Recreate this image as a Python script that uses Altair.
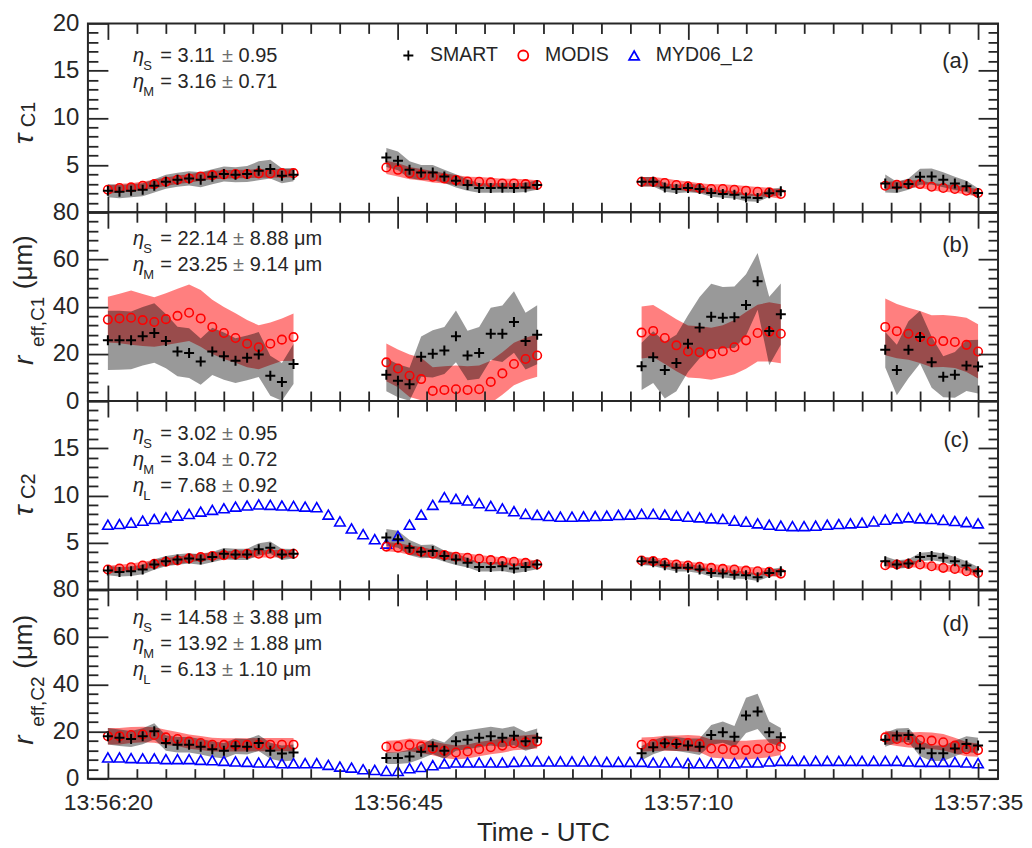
import altair as alt
import pandas as pd

FONT = "Liberation Sans"
INK = "#262626"
PM_INK = "#6e6e6e"
W, H = 911, 189

# ---------------- axes / categories ----------------
TIME_TICKS = [0, 25, 50, 75]
TIME_LABELS = ["13:56:20", "13:56:45", "13:57:10", "13:57:35"]
X_DOMAIN = [-1.72, 76.72]
X_MINOR = [i * 2.5 for i in range(1, 30) if i % 10]

SEG_TIMES = [list(range(0, 17)), list(range(24, 38)), list(range(46, 59)), list(range(67, 76))]
LIDAR_TIMES = list(range(0, 76))

SERIES = ["SMART", "MODIS", "MYD06_L2"]
SERIES_COLORS = ["#000000", "#ff0000", "#0000ff"]
PLUS = "M-1,0L1,0M0,-1L0,1"
SERIES_SHAPES = [PLUS, "circle", "triangle-up"]

# ---------------- panel (a): tau C1 ----------------
TAU1_SMART = [
    [2.28, 2.17, 2.28, 2.38, 2.8, 3.23, 3.44, 3.58, 3.44, 3.76, 4.04, 3.97, 4.04, 4.39, 4.57, 3.86, 3.97],
    [5.79, 5.44, 4.49, 4.21, 4.21, 3.79, 3.33, 2.88, 2.56, 2.56, 2.6, 2.56, 2.63, 2.88],
    [3.23, 3.23, 2.63, 2.46, 2.56, 2.46, 2.03, 1.93, 1.86, 1.57, 1.51, 2.0, 2.21],
    [3.05, 2.63, 2.98, 3.76, 3.79, 3.44, 3.05, 2.74, 2.03],
]
TAU1_SMART_ERR = [
    [0.7, 0.7, 0.7, 0.7, 0.7, 0.75, 0.75, 0.75, 0.8, 0.8, 0.8, 0.8, 0.85, 1.0, 1.0, 0.8, 0.7],
    [1.0, 1.0, 0.9, 0.8, 0.8, 0.7, 0.7, 0.6, 0.5, 0.5, 0.5, 0.5, 0.5, 0.5],
    [0.5, 0.5, 0.45, 0.45, 0.45, 0.45, 0.4, 0.4, 0.4, 0.4, 0.4, 0.4, 0.4],
    [0.95, 0.6, 0.6, 0.85, 0.85, 0.8, 0.7, 0.6, 0.5],
]
TAU1_MODIS = [
    [2.38, 2.56, 2.63, 2.8, 2.98, 3.23, 3.44, 3.58, 3.79, 3.93, 4.0, 4.04, 4.04, 4.11, 4.11, 4.14, 4.14],
    [4.74, 4.49, 4.14, 3.97, 3.76, 3.58, 3.4, 3.26, 3.23, 3.16, 3.05, 3.05, 2.98, 2.88],
    [3.23, 3.23, 3.09, 2.88, 2.74, 2.56, 2.46, 2.46, 2.38, 2.28, 2.17, 2.1, 1.93],
    [2.8, 2.91, 2.98, 2.98, 2.7, 2.56, 2.46, 2.28, 2.03],
]
TAU1_MODIS_ERR = [
    [0.45, 0.45, 0.45, 0.45, 0.45, 0.45, 0.45, 0.45, 0.45, 0.45, 0.45, 0.45, 0.45, 0.45, 0.45, 0.45, 0.45],
    [0.7, 0.7, 0.65, 0.6, 0.6, 0.55, 0.55, 0.5, 0.5, 0.5, 0.5, 0.5, 0.5, 0.5],
    [0.5, 0.5, 0.5, 0.5, 0.5, 0.5, 0.5, 0.5, 0.5, 0.5, 0.5, 0.5, 0.5],
    [0.4, 0.4, 0.4, 0.4, 0.4, 0.4, 0.4, 0.4, 0.4],
]

# ---------------- panel (b): r_eff C1 ----------------
R1_SMART = [
    [25.7, 25.7, 25.7, 27.4, 28.8, 25.4, 21.0, 20.3, 16.7, 21.0, 19.0, 17.1, 18.3, 19.7, 10.7, 8.1, 15.7],
    [11.1, 8.6, 7.1, 18.8, 20.0, 21.4, 27.4, 19.3, 20.4, 28.5, 28.5, 33.5, 25.4, 28.1],
    [14.7, 18.6, 13.1, 16.1, 24.3, 31.1, 35.7, 35.3, 35.5, 40.7, 50.7, 29.7, 36.8],
    [21.7, 13.1, 21.7, 27.1, 16.4, 10.3, 11.1, 15.0, 14.6],
]
R1_SMART_ERR = [
    [12.6, 12.5, 12.2, 12.4, 12.6, 11.5, 10.5, 10.5, 9.8, 10.0, 10.0, 9.5, 9.5, 9.5, 8.5, 8.0, 8.5],
    [7.0, 7.0, 7.0, 8.5, 10.0, 10.0, 11.0, 10.5, 11.0, 11.0, 12.0, 13.0, 12.0, 12.5],
    [10.0, 11.0, 12.0, 12.0, 12.0, 13.0, 14.0, 13.0, 13.0, 13.0, 12.0, 14.5, 13.0],
    [7.5, 10.7, 12.1, 11.2, 10.8, 8.7, 9.7, 10.7, 11.4],
]
R1_MODIS = [
    [34.5, 35.0, 35.3, 34.3, 33.5, 34.7, 36.1, 37.4, 35.0, 31.4, 28.8, 26.7, 24.3, 22.8, 24.3, 26.0, 27.1],
    [16.4, 13.8, 10.7, 9.3, 4.3, 4.7, 5.0, 4.7, 5.0, 8.1, 11.7, 15.7, 17.8, 19.3],
    [29.0, 29.7, 26.7, 23.6, 21.0, 20.7, 20.0, 21.1, 22.8, 25.7, 28.8, 29.3, 28.5],
    [31.4, 29.6, 28.5, 27.1, 25.3, 25.4, 25.0, 23.8, 21.0],
]
R1_MODIS_ERR = [
    [9.7, 10.5, 11.5, 11.0, 10.5, 11.0, 11.5, 12.0, 12.0, 11.5, 11.0, 10.5, 10.0, 9.3, 9.0, 9.0, 10.0],
    [8.0, 8.0, 9.0, 9.0, 10.0, 10.0, 10.0, 10.0, 10.0, 9.0, 9.0, 9.0, 9.0, 9.0],
    [11.0, 11.0, 11.0, 11.0, 11.0, 11.0, 11.0, 11.0, 11.5, 12.0, 12.0, 12.5, 12.5],
    [12.0, 11.5, 11.0, 11.0, 11.0, 11.0, 11.0, 11.5, 11.5],
]

# ---------------- panel (c): tau C2 ----------------
TAU2_SMART = [
    [2.04, 1.9, 1.97, 2.15, 2.69, 3.04, 3.22, 3.33, 3.22, 3.47, 3.82, 3.75, 3.75, 4.29, 4.47, 3.75, 3.82],
    [5.54, 5.36, 4.47, 4.04, 4.11, 3.58, 3.22, 2.86, 2.43, 2.43, 2.5, 2.26, 2.43, 2.68],
    [3.04, 2.93, 2.61, 2.33, 2.33, 2.15, 1.79, 1.72, 1.61, 1.54, 1.33, 1.79, 1.97],
    [3.04, 2.68, 2.79, 3.47, 3.58, 3.4, 3.04, 2.58, 1.97],
]
TAU2_SMART_ERR = [
    [0.5, 0.5, 0.5, 0.5, 0.55, 0.55, 0.55, 0.55, 0.55, 0.55, 0.6, 0.6, 0.6, 0.65, 0.65, 0.6, 0.5],
    [0.9, 0.9, 0.8, 0.7, 0.7, 0.6, 0.6, 0.5, 0.5, 0.5, 0.5, 0.5, 0.5, 0.5],
    [0.4, 0.4, 0.4, 0.4, 0.4, 0.4, 0.4, 0.4, 0.4, 0.4, 0.4, 0.4, 0.4],
    [0.5, 0.45, 0.45, 0.45, 0.45, 0.45, 0.45, 0.45, 0.45],
]
TAU2_MODIS = [
    [2.15, 2.26, 2.4, 2.58, 2.75, 2.97, 3.11, 3.33, 3.47, 3.58, 3.68, 3.75, 3.82, 3.82, 3.82, 3.82, 3.82],
    [4.58, 4.47, 4.22, 4.04, 3.82, 3.68, 3.5, 3.4, 3.29, 3.15, 3.04, 2.97, 2.86, 2.68],
    [3.11, 3.04, 2.86, 2.68, 2.58, 2.43, 2.33, 2.22, 2.15, 2.04, 1.97, 1.9, 1.72],
    [2.61, 2.68, 2.75, 2.68, 2.5, 2.33, 2.22, 1.97, 1.79],
]
TAU2_MODIS_ERR = [
    [0.4, 0.4, 0.4, 0.4, 0.4, 0.4, 0.4, 0.4, 0.4, 0.4, 0.4, 0.4, 0.4, 0.4, 0.4, 0.4, 0.4],
    [0.5, 0.5, 0.5, 0.5, 0.45, 0.45, 0.45, 0.45, 0.4, 0.4, 0.4, 0.4, 0.4, 0.4],
    [0.4, 0.4, 0.4, 0.4, 0.4, 0.4, 0.4, 0.4, 0.4, 0.4, 0.4, 0.4, 0.4],
    [0.35, 0.35, 0.35, 0.35, 0.35, 0.35, 0.35, 0.35, 0.35],
]
TAU2_MYD06 = [
    6.9, 6.97, 7.11, 7.32, 7.5, 7.68, 7.86, 8.04, 8.29, 8.47, 8.64, 8.82, 8.93, 9.04, 9.0, 8.93,
    8.89, 8.82, 8.75, 7.97, 7.25, 6.5, 5.9, 5.36, 4.9, 5.72, 6.9, 7.97, 9.0, 9.82, 9.64, 9.46,
    9.18, 8.89, 8.62, 8.33, 8.04, 7.93, 7.82, 7.75, 7.75, 7.79, 7.82, 7.86, 7.93, 7.97, 8.04, 8.04,
    7.97, 7.86, 7.75, 7.68, 7.57, 7.5, 7.32, 7.22, 7.04, 6.9, 6.79, 6.75, 6.75, 6.79, 6.9, 6.97,
    7.04, 7.11, 7.25, 7.43, 7.57, 7.68, 7.57, 7.5, 7.4, 7.29, 7.18, 7.04,
]

# ---------------- panel (d): r_eff C2 ----------------
R2_SMART = [
    [18.0, 17.3, 16.8, 18.0, 20.1, 15.1, 14.4, 14.4, 13.5, 12.5, 11.8, 13.7, 13.5, 15.1, 11.8, 10.7, 11.1],
    [8.7, 8.7, 9.4, 11.4, 13.7, 11.8, 15.8, 16.5, 17.3, 18.0, 17.3, 18.2, 15.8, 17.3],
    [10.8, 13.3, 15.0, 14.7, 14.0, 13.5, 18.5, 19.7, 17.8, 26.8, 28.5, 19.7, 17.5],
    [16.5, 18.3, 18.5, 12.8, 10.8, 10.8, 12.8, 14.7, 14.0],
]
R2_SMART_ERR = [
    [3.5, 3.5, 3.4, 3.4, 3.4, 3.3, 3.3, 3.3, 3.3, 3.3, 3.3, 3.3, 3.3, 3.4, 3.4, 3.4, 3.4],
    [2.5, 2.5, 2.8, 3.0, 3.3, 3.5, 4.0, 4.0, 4.0, 4.0, 4.0, 4.0, 4.0, 4.0],
    [3.0, 3.0, 3.0, 3.0, 3.0, 3.5, 4.2, 4.5, 4.5, 7.5, 7.5, 4.5, 4.0],
    [3.0, 3.0, 3.0, 3.3, 3.3, 3.3, 3.3, 3.3, 3.3],
]
R2_MODIS = [
    [18.0, 18.0, 18.5, 18.7, 18.5, 17.5, 16.8, 15.7, 15.1, 14.4, 14.3, 14.3, 14.3, 14.4, 14.4, 14.4, 14.4],
    [13.5, 13.7, 14.3, 13.7, 12.8, 11.8, 11.1, 11.5, 12.5, 13.3, 14.0, 15.0, 15.4, 15.8],
    [14.4, 14.7, 15.0, 15.0, 15.1, 14.7, 12.8, 12.5, 12.1, 12.1, 12.5, 12.9, 13.5],
    [17.5, 16.8, 16.4, 16.4, 16.1, 15.4, 14.0, 12.5, 12.1],
]
R2_MODIS_ERR = [
    [3.5, 3.5, 3.4, 3.3, 3.3, 3.2, 3.0, 3.0, 3.0, 2.9, 2.8, 2.8, 2.8, 2.8, 2.8, 2.8, 2.8],
    [2.6, 2.6, 2.7, 2.8, 2.9, 3.0, 3.0, 3.0, 3.0, 3.0, 3.0, 3.0, 3.0, 3.0],
    [3.0, 3.0, 3.2, 3.3, 3.4, 3.5, 3.8, 4.0, 4.0, 4.0, 4.0, 3.8, 3.5],
    [2.8, 3.0, 3.2, 3.4, 3.5, 3.5, 3.3, 3.0, 2.8],
]
R2_MYD06 = [
    8.98, 8.98, 8.7, 8.55, 8.55, 8.27, 8.27, 8.27, 7.98, 7.84, 7.55, 7.27, 7.12, 6.84, 6.84, 6.55,
    6.55, 6.55, 6.55, 5.84, 5.13, 4.7, 3.98, 3.7, 3.27, 3.27, 4.41, 4.98, 5.7, 6.41, 6.84, 6.84,
    6.84, 6.84, 6.84, 7.12, 7.27, 7.27, 7.27, 7.27, 7.27, 7.27, 7.27, 7.12, 7.12, 7.12, 7.12, 6.84,
    6.84, 6.84, 6.55, 6.55, 6.55, 6.55, 6.55, 6.84, 6.84, 7.27, 7.55, 7.55, 7.55, 7.55, 7.55, 7.55,
    7.55, 7.55, 7.55, 7.55, 7.55, 7.27, 7.12, 7.12, 7.12, 7.12, 6.84, 6.55,
]

# ---------------- statistics text: (subscript, median, spread, unit) ----------------
NOTES_A = [("S", "3.11", "0.95", ""), ("M", "3.16", "0.71", "")]
NOTES_B = [("S", "22.14", "8.88", " μm"), ("M", "23.25", "9.14", " μm")]
NOTES_C = [("S", "3.02", "0.95", ""), ("M", "3.04", "0.72", ""), ("L", "7.68", "0.92", "")]
NOTES_D = [("S", "14.58", "3.88", " μm"), ("M", "13.92", "1.88", " μm"), ("L", "6.13", "1.10", " μm")]

# Arial / Liberation Sans advance widths (per 1000 em) for laying out the stat lines
ADV = {"=": 584, " ": 278, ".": 278, "±": 549}


def text_width(s, size):
    return sum(ADV.get(c, 556) for c in s) * size / 1000.0


# ---------------- helpers ----------------
def band_rows(series, values, errors):
    rows = []
    for seg, (ts, vs, es) in enumerate(zip(SEG_TIMES, values, errors)):
        for t, v, e in zip(ts, vs, es):
            rows.append({"t": t, "v": v, "lo": v - e, "hi": v + e, "series": series, "seg": seg})
    return rows


def lidar_rows(values):
    return [{"t": t, "v": v, "lo": v, "hi": v, "series": "MYD06_L2", "seg": 9}
            for t, v in zip(LIDAR_TIMES, values)]


ONE = pd.DataFrame({"k": [0]})
LABEL_EXPR = " : ".join(f"datum.value == {v} ? '{s}'" for v, s in zip(TIME_TICKS, TIME_LABELS)) + " : ''"
COLOR_SCALE = alt.Scale(domain=SERIES, range=SERIES_COLORS)
SHAPE_SCALE = alt.Scale(domain=SERIES, range=SERIES_SHAPES)


def txt(s, x, y, size, italic=False, angle=None, align="left", color=INK):
    kw = dict(font=FONT, fontSize=size, color=color, align=align, baseline="alphabetic")
    if italic:
        kw["fontStyle"] = "italic"
    if angle is not None:
        kw["angle"] = angle
    return alt.Chart(ONE).mark_text(**kw).encode(x=alt.value(x), y=alt.value(y), text=alt.value(s))


def tick_axis(orient, values, size, offset):
    return alt.Axis(orient=orient, values=values, tickSize=size, offset=offset, labels=False,
                    domain=False, grid=False, ticks=True, tickColor=INK, tickWidth=1.8,
                    title=None, zindex=2)


def axis_layer(xaxis, yaxis, xs, ys):
    return alt.Chart(ONE).mark_point(opacity=0).encode(
        x=alt.X("k:Q", scale=xs, axis=xaxis), y=alt.Y("k:Q", scale=ys, axis=yaxis))


def make_panel(rows, ydom, ylabels, ymajor, yminor, notes, note_y, tag, tag_y, title_parts,
               xlabels=False, legend=None):
    df = pd.DataFrame(rows)
    xs = alt.Scale(domain=X_DOMAIN, nice=False, zero=False)
    ys = alt.Scale(domain=ydom, nice=False, zero=False)
    layers = []
    for series, col, op in [("MODIS", "#ff0000", 0.5), ("SMART", "#000000", 0.4)]:
        layers.append(
            alt.Chart(df).transform_filter(alt.datum.series == series)
            .mark_area(color=col, opacity=op, clip=True)
            .encode(x=alt.X("t:Q", scale=xs, axis=None),
                    y=alt.Y("lo:Q", scale=ys, axis=None, stack=None),
                    y2="hi:Q", detail="seg:N"))
    for series, size, sw in [("MYD06_L2", 110, 1.6), ("MODIS", 72, 1.6), ("SMART", 100, 2.0)]:
        layers.append(
            alt.Chart(df).transform_filter(alt.datum.series == series)
            .mark_point(filled=False, size=size, strokeWidth=sw, opacity=1, clip=True)
            .encode(x=alt.X("t:Q", scale=xs, axis=None),
                    y=alt.Y("v:Q", scale=ys, axis=None),
                    color=alt.Color("series:N", scale=COLOR_SCALE, legend=legend),
                    shape=alt.Shape("series:N", scale=SHAPE_SCALE, legend=legend)))

    xlab = None
    if xlabels:
        xlab = alt.Axis(orient="bottom", values=TIME_TICKS, labelExpr=LABEL_EXPR, ticks=False,
                        tickSize=0, domain=False, grid=False, labelFontSize=23, labelPadding=13,
                        labelFlush=False, labelColor=INK, labelFont=FONT, labelOverlap=False,
                        title="Time - UTC", titleFontSize=26, titleFont=FONT,
                        titleFontWeight="normal", titleColor=INK, titlePadding=5)
    ylab = alt.Axis(orient="left", values=ylabels, ticks=False, tickSize=0, domain=False,
                    grid=False, labelFontSize=24, labelPadding=9, labelColor=INK, labelFont=FONT,
                    labelOverlap=False, title=None)
    layers += [
        axis_layer(xlab, ylab, xs, ys),
        axis_layer(tick_axis("bottom", TIME_TICKS, 16, -H), tick_axis("right", ymajor, 20, -W), xs, ys),
        axis_layer(tick_axis("bottom", X_MINOR, 10, -H), tick_axis("right", yminor, 10, -W), xs, ys),
        axis_layer(tick_axis("top", TIME_TICKS, 16, -H), tick_axis("left", ymajor, 20, -W), xs, ys),
        axis_layer(tick_axis("top", X_MINOR, 10, -H), tick_axis("left", yminor, 10, -W), xs, ys),
    ]
    # statistics lines: eta_X = median ± spread [unit]
    for (sub, med, spread, unit), yb in zip(notes, note_y):
        x0 = 72.5
        x_pm = x0 + text_width("= " + med + " ", 20)
        x_tail = x_pm + text_width("± ", 20)
        layers.append(txt("η", 45, yb, 20, italic=True))
        layers.append(txt(sub, 55.5, yb + 8, 13))
        layers.append(txt("= " + med, x0, yb, 20))
        layers.append(txt("±", x_pm, yb, 20, color=PM_INK))
        layers.append(txt(spread + unit, x_tail, yb, 20))
    layers.append(txt(tag, 882, tag_y, 22, align="right"))
    for (s, x, y, size, italic) in title_parts:
        layers.append(txt(s, x, y, size, italic=italic, angle=270))
    return alt.layer(*layers).properties(width=W, height=H).resolve_axis(x="independent", y="independent")


LEGEND = alt.Legend(title=None, orient="none", legendX=311, legendY=22, direction="horizontal",
                    labelFont=FONT, labelFontSize=19.5, labelColor=INK, symbolSize=100,
                    symbolStrokeWidth=1.8, labelOffset=12, columnPadding=15, padding=0,
                    symbolFillColor="transparent", labelLimit=0)

minor_tau = [v for v in range(1, 20) if v % 5]
minor_r = [v for v in range(4, 80, 4) if v % 20]

pa = make_panel(band_rows("SMART", TAU1_SMART, TAU1_SMART_ERR) + band_rows("MODIS", TAU1_MODIS, TAU1_MODIS_ERR),
                [0, 20], [5, 10, 15, 20], [0, 5, 10, 15, 20], minor_tau, NOTES_A, [39, 65], "(a)", 45,
                [("τ", -55, 121, 28, True), ("C1", -53, 104, 20, False)], legend=LEGEND)
pb = make_panel(band_rows("SMART", R1_SMART, R1_SMART_ERR) + band_rows("MODIS", R1_MODIS, R1_MODIS_ERR),
                [0, 80], [0, 20, 40, 60, 80], [0, 20, 40, 60, 80], minor_r, NOTES_B, [33, 59], "(b)", 40,
                [("r", -55, 153, 28, True), ("eff,C1", -44, 135, 19, False), ("(μm)", -56, 77, 26, False)])
pc = make_panel(band_rows("SMART", TAU2_SMART, TAU2_SMART_ERR) + band_rows("MODIS", TAU2_MODIS, TAU2_MODIS_ERR)
                + lidar_rows(TAU2_MYD06),
                [0, 20], [5, 10, 15], [0, 5, 10, 15, 20], minor_tau, NOTES_C, [39, 65, 91], "(c)", 46,
                [("τ", -55, 115, 28, True), ("C2", -53, 98, 20, False)])
pd_ = make_panel(band_rows("SMART", R2_SMART, R2_SMART_ERR) + band_rows("MODIS", R2_MODIS, R2_MODIS_ERR)
                 + lidar_rows(R2_MYD06),
                 [0, 80], [0, 20, 40, 60, 80], [0, 20, 40, 60, 80], minor_r, NOTES_D, [34, 60, 86], "(d)", 41,
                 [("r", -55, 155, 28, True), ("eff,C2", -44, 137, 19, False), ("(μm)", -56, 79, 26, False)],
                 xlabels=True)

chart = (
    alt.vconcat(pa, pb, pc, pd_, spacing=0, bounds="flush")
    .resolve_scale(color="independent", shape="independent")
    .properties(padding={"left": 2, "top": 2, "right": 0, "bottom": 0})
    .configure_view(stroke=INK, strokeWidth=2)
    .configure_axis(grid=False)
)

chart.save("out.html", embed_options={"renderer": "svg", "actions": False})
